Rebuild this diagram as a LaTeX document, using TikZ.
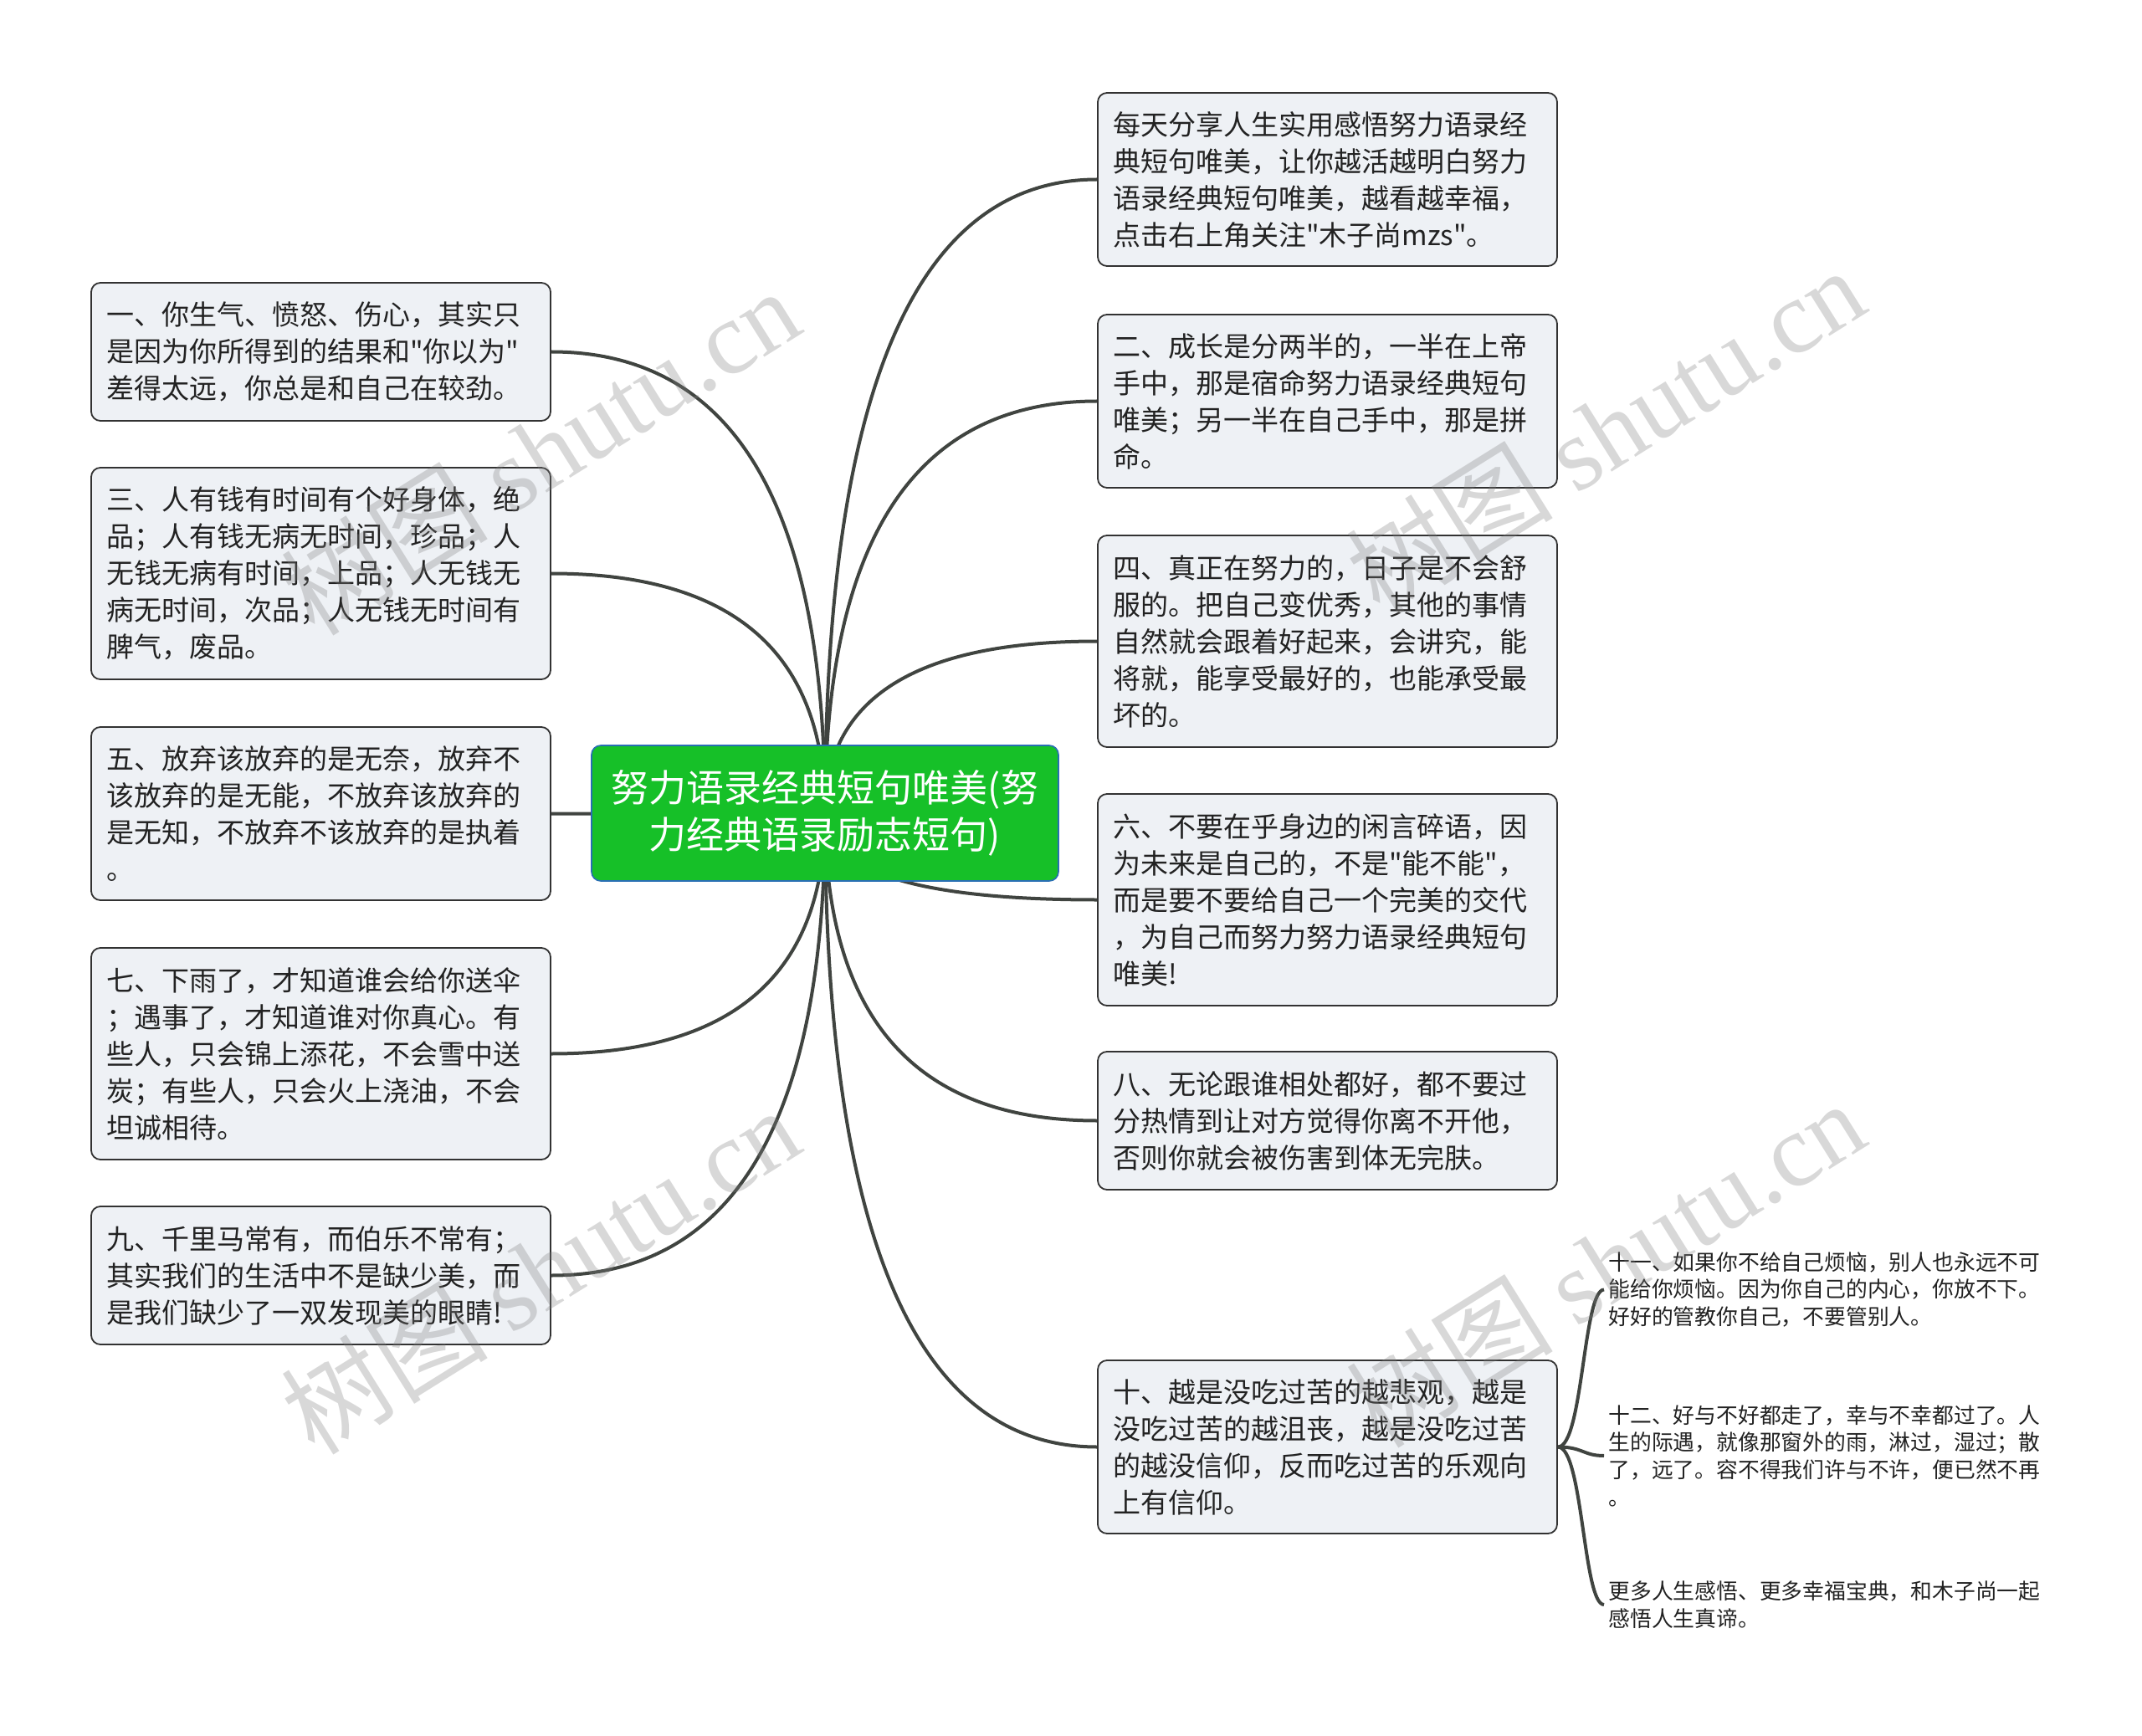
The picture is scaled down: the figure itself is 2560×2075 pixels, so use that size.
\documentclass[tikz,border=0pt]{standalone}
\usepackage{fontspec}
\setmainfont{Noto Sans CJK SC}[Ligatures=TeXOff]
\newfontfamily\wmfont{Liberation Serif}
\newfontfamily\wmcjk{Noto Sans CJK SC}
\usetikzlibrary{calc}
\definecolor{boxfill}{RGB}{238,241,245}
\definecolor{boxline}{RGB}{50,50,50}
\definecolor{edgecol}{RGB}{64,68,64}
\definecolor{rootfill}{RGB}{22,192,40}
\definecolor{rootline}{RGB}{40,110,180}
\definecolor{txt}{RGB}{34,34,34}
\pgfdeclarelayer{bg}
\pgfdeclarelayer{edges}
\pgfsetlayers{bg,edges,main}
\begin{document}
\begin{tikzpicture}[x=0.5pt,y=-0.5pt,
  topic/.style={draw=boxline, line width=0.9pt, fill=boxfill, rounded corners=5.5pt,
    text width=256.5pt, inner xsep=9pt, inner ysep=0pt, align=left,
    font=\fontsize{16.5pt}{22pt}\selectfont, text=txt},
  hthree/.style={minimum height=82.5pt},
  hfour/.style={minimum height=103.5pt},
  hfive/.style={minimum height=126.5pt},
  rootbox/.style={draw=rootline, line width=0.8pt, fill=rootfill, rounded corners=5.5pt,
    minimum width=279pt, minimum height=81pt, align=center, text=white,
    font=\fontsize{22.5pt}{28pt}\selectfont},
  leaf/.style={anchor=west, text width=262pt, inner xsep=2.5pt, inner ysep=2pt, align=left,
    font=\fontsize{12.9pt}{16.35pt}\selectfont, text=txt},
  edge/.style={draw=edgecol, line width=2pt},
  wm/.style={text=gray, text opacity=0.3, rotate=32, font=\fontsize{62pt}{62pt}\selectfont}
]
\begin{pgfonlayer}{bg}
\fill[white] (0,0) rectangle (2560,2075);
\end{pgfonlayer}
\useasboundingbox (0,0) rectangle (2560,2075);

% root
\node[rootbox] (root) at (986,972) {努力语录经典短句唯美(努\\力经典语录励志短句)};

% left topics
\node[topic,hthree] (n1) at (383.5,420.5) {一、你生气、愤怒、伤心，其实只\\是因为你所得到的结果和"你以为"\\差得太远，你总是和自己在较劲。};
\node[topic,hfive] (n3) at (383.5,685.5) {三、人有钱有时间有个好身体，绝\\品；人有钱无病无时间，珍品；人\\无钱无病有时间，上品；人无钱无\\病无时间，次品；人无钱无时间有\\脾气，废品。};
\node[topic,hfour] (n5) at (383.5,972.5) {五、放弃该放弃的是无奈，放弃不\\该放弃的是无能，不放弃该放弃的\\是无知，不放弃不该放弃的是执着\\。};
\node[topic,hfive] (n7) at (383.5,1259.5) {七、下雨了，才知道谁会给你送伞\\；遇事了，才知道谁对你真心。有\\些人，只会锦上添花，不会雪中送\\炭；有些人，只会火上浇油，不会\\坦诚相待。};
\node[topic,hthree] (n9) at (383.5,1524.5) {九、千里马常有，而伯乐不常有；\\其实我们的生活中不是缺少美，而\\是我们缺少了一双发现美的眼睛!};

% right topics
\node[topic,hfour] (n0) at (1586.5,214.5) {每天分享人生实用感悟努力语录经\\典短句唯美，让你越活越明白努力\\语录经典短句唯美，越看越幸福，\\点击右上角关注"木子尚mzs"。};
\node[topic,hfour] (n2) at (1586.5,479.5) {二、成长是分两半的，一半在上帝\\手中，那是宿命努力语录经典短句\\唯美；另一半在自己手中，那是拼\\命。};
\node[topic,hfive] (n4) at (1586.5,766.5) {四、真正在努力的，日子是不会舒\\服的。把自己变优秀，其他的事情\\自然就会跟着好起来，会讲究，能\\将就，能享受最好的，也能承受最\\坏的。};
\node[topic,hfive] (n6) at (1586.5,1075.5) {六、不要在乎身边的闲言碎语，因\\为未来是自己的，不是"能不能"，\\而是要不要给自己一个完美的交代\\，为自己而努力努力语录经典短句\\唯美!};
\node[topic,hthree] (n8) at (1586.5,1339.5) {八、无论跟谁相处都好，都不要过\\分热情到让对方觉得你离不开他，\\否则你就会被伤害到体无完肤。};
\node[topic,hfour] (n10) at (1586.5,1729.5) {十、越是没吃过苦的越悲观，越是\\没吃过苦的越沮丧，越是没吃过苦\\的越没信仰，反而吃过苦的乐观向\\上有信仰。};

% leaves
\node[leaf] (l11) at (1917,1541.5) {十一、如果你不给自己烦恼，别人也永远不可\\能给你烦恼。因为你自己的内心，你放不下。\\好好的管教你自己，不要管别人。};
\node[leaf] (l12) at (1917,1740) {十二、好与不好都走了，幸与不幸都过了。人\\生的际遇，就像那窗外的雨，淋过，湿过；散\\了，远了。容不得我们许与不许，便已然不再\\。};
\node[leaf] (l13) at (1917,1918) {更多人生感悟、更多幸福宝典，和木子尚一起\\感悟人生真谛。};

% connectors
\begin{pgfonlayer}{edges}
\foreach \c/\a in {n1/east,n3/east,n5/east,n7/east,n9/east,n0/west,n2/west,n4/west,n6/west,n8/west,n10/west}{
  \draw[edge] (root.center) .. controls ($(root.center)!0.667!(root.center |- \c.\a)$) and ($(\c.\a)!0.667!(root.center |- \c.\a)$) .. (\c.\a);
}
\foreach \l in {l11,l12,l13}{
  \draw[edge] (n10.east) .. controls +(30,0) and +(-25,0) .. (\l.west);
}
\end{pgfonlayer}

% watermarks
\node[wm] (w1) at (645,539) {{\wmcjk 树图} {\wmfont shutu.cn}};
\node[wm] (w2) at (1918,514) {{\wmcjk 树图} {\wmfont shutu.cn}};
\node[wm] (w3) at (645,1518) {{\wmcjk 树图} {\wmfont shutu.cn}};
\node[wm] (w4) at (1918,1510) {{\wmcjk 树图} {\wmfont shutu.cn}};
\end{tikzpicture}
\end{document}
